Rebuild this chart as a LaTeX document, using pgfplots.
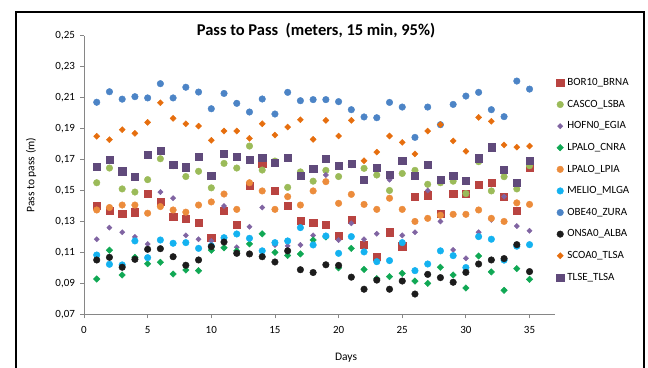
\documentclass[border=0pt]{standalone}
\usepackage{fontspec}
\setmainfont{Carlito}
\usepackage{pgfplots}
\usepackage{pgfplotstable}
\pgfplotsset{compat=1.18}

\definecolor{cBOR}{RGB}{185,68,65}
\definecolor{cCAS}{RGB}{155,187,89}
\definecolor{cHOF}{RGB}{128,100,162}
\definecolor{cCNR}{RGB}{16,168,84}
\definecolor{cLPI}{RGB}{236,140,60}
\definecolor{cMEL}{RGB}{20,178,240}
\definecolor{cOBE}{RGB}{76,132,198}
\definecolor{cONS}{RGB}{28,28,28}
\definecolor{cSCO}{RGB}{230,110,14}
\definecolor{cTLS}{RGB}{96,74,123}
\definecolor{axisgray}{RGB}{134,134,134}

% pass-to-pass 95% values (m) per station pair, days 1-35
\pgfplotstableread{
day BOR CAS HOF CNR LPI MEL OBE ONS SCO TLS
1 0.140 0.155 0.1185 0.0928 0.1374 0.1083 0.2070 0.1051 0.1850 0.1652
2 0.137 0.1645 0.126 0.1114 0.139 0.1023 0.2138 0.1068 0.1828 0.1701
3 0.135 0.151 0.123 0.0954 0.1406 0.1019 0.2090 0.1004 0.1893 0.1624
4 0.136 0.149 0.120 0.1068 0.1406 0.1174 0.2106 0.1055 0.1869 0.1587
5 0.148 0.157 0.1154 0.1027 0.1353 0.1066 0.2098 0.1120 0.1940 0.1731
6 0.143 0.1705 0.149 0.1036 0.1396 0.1180 0.2190 0.1124 0.2067 0.1755
7 0.133 0.166 0.145 0.0960 0.1374 0.1159 0.2098 0.1072 0.1966 0.1669
8 0.132 0.159 0.121 0.0986 0.136 0.1163 0.2167 0.1017 0.1931 0.1650
9 0.129 0.1624 0.1185 0.0982 0.1406 0.1126 0.2136 0.1051 0.1916 0.1718
10 0.1195 0.1517 0.1174 0.1114 0.1426 0.1142 0.2028 0.1137 0.1824 0.1593
11 0.137 0.1675 0.140 0.113 0.1477 0.1195 0.2127 0.1167 0.1884 0.1738
12 0.128 0.1645 0.1133 0.111 0.1378 0.1219 0.2063 0.1094 0.1884 0.1716
13 0.153 0.1787 0.1266 0.1155 0.155 0.1191 0.2007 0.1090 0.1837 0.1697
14 0.1675 0.1632 0.139 0.122 0.1497 0.111 0.2091 0.1072 0.1931 0.1712
15 0.150 0.169 0.1148 0.110 0.1378 0.1163 0.1994 0.1038 0.1858 0.1677
16 0.140 0.152 0.1142 0.108 0.146 0.1174 0.2134 0.1110 0.1910 0.1710
17 0.1305 0.162 0.1148 0.109 0.1406 0.126 0.2080 0.0988 0.1957 0.1593
18 0.129 0.156 0.121 0.118 0.1497 0.1148 0.2087 0.0970 0.1830 0.1641
19 0.128 0.163 0.160 0.120 0.1557 0.1206 0.2087 0.1020 0.1953 0.1705
20 0.121 0.159 0.118 0.100 0.1417 0.1094 0.2074 0.1016 0.1852 0.1658
21 0.131 0.1667 0.1288 0.1126 0.1475 0.1202 0.2022 0.0940 0.1953 0.1673
22 0.115 0.1643 0.1185 0.099 0.141 0.1103 0.1975 0.0862 0.1692 0.1568
23 0.107 0.160 0.122 0.093 0.1378 0.104 0.1970 0.0921 0.1748 0.1645
24 0.123 0.150 0.157 0.0943 0.145 0.1047 0.2069 0.0862 0.1852 0.1600
25 0.114 0.161 0.121 0.0965 0.1378 0.1163 0.2039 0.0915 0.1811 0.1690
26 0.146 0.163 0.123 0.0915 0.130 0.0982 0.1843 0.0831 0.1736 0.1594
27 0.147 0.154 0.150 0.090 0.132 0.1025 0.2039 0.0958 0.1884 0.1669
28 0.135 0.155 0.130 0.1004 0.134 0.111 0.1925 0.0937 0.1926 0.1572
29 0.148 0.156 0.1116 0.0954 0.1346 0.1079 0.2056 0.0907 0.1820 0.1593
30 0.148 0.148 0.1062 0.087 0.1346 0.1002 0.2110 0.0971 0.1753 0.1565
31 0.1536 0.1686 0.123 0.1077 0.1374 0.1202 0.2134 0.1025 0.1972 0.1708
32 0.155 0.1497 0.131 0.0974 0.132 0.1185 0.2022 0.1051 0.1947 0.1779
33 0.146 0.1589 0.146 0.0855 0.130 0.105 0.1977 0.1060 0.1794 0.1632
34 0.137 0.151 0.127 0.0995 0.142 0.114 0.2207 0.1150 0.1780 0.1550
35 0.165 0.166 0.124 0.0926 0.141 0.115 0.2155 0.0976 0.1787 0.1690
}\passdata

\begin{document}
\begin{tikzpicture}[x=1pt,y=1pt]
\useasboundingbox (0,0) rectangle (648,367);
% chart frame
\draw[line width=1.8pt] (16,-20) -- (16,355) -- (644,355) -- (644,-20);
\node[font=\fontsize{16.5}{19}\bfseries\selectfont] at (316,336) {Pass to Pass\ \ (meters, 15 min, 95\%)};
\node[font=\fontsize{11.5}{13}\selectfont, rotate=90] at (31,192) {Pass to pass (m)};
\node[font=\fontsize{11.5}{13}\selectfont] at (346,9) {Days};
\begin{axis}[
  at={(84pt,52.7pt)}, anchor=south west,
  scale only axis, width=471pt, height=278.6pt,
  xmin=0, xmax=37, ymin=0.07, ymax=0.25,
  axis lines*=left,
  axis line style={draw=axisgray, line width=0.8pt},
  tick style={draw=axisgray, line width=0.8pt},
  tick align=outside, major tick length=4pt,
  xtick={0,5,10,15,20,25,30,35},
  ytick={0.07,0.09,0.11,0.13,0.15,0.17,0.19,0.21,0.23,0.25},
  scaled y ticks=false,
  /pgf/number format/assume math mode=true,
  tick label style={font=\fontsize{11}{13}\selectfont},
  xticklabel style={yshift=-5pt},
  yticklabel style={xshift=-1.5pt, /pgf/number format/.cd, use comma, fixed, fixed zerofill, precision=2},
  legend cell align=left,
  legend style={at={(axis description cs:1.003,0.850)}, anchor=north west,
    draw=none, fill=none, inner sep=0pt, row sep=11.1pt, column sep=3.5pt,
    font=\fontsize{11}{13}\selectfont,
    nodes={inner sep=0pt, text height=8pt, text depth=2.5pt}},
  legend image code/.code={\draw[#1] plot coordinates {(0pt,0pt)};},
]
\addplot[only marks, mark=square*, mark size=3.6pt, color=cBOR] table[x=day,y=BOR] {\passdata};
\addlegendentry{BOR10\_BRNA}
\addplot[only marks, mark=*, mark size=3.3pt, color=cCAS] table[x=day,y=CAS] {\passdata};
\addlegendentry{CASCO\_LSBA}
\addplot[only marks, mark=square*, mark size=1.85pt, mark options={rotate=45}, color=cHOF] table[x=day,y=HOF] {\passdata};
\addlegendentry{HOFN0\_EGIA}
\addplot[only marks, mark=square*, mark size=2.3pt, mark options={rotate=45}, color=cCNR] table[x=day,y=CNR] {\passdata};
\addlegendentry{LPALO\_CNRA}
\addplot[only marks, mark=*, mark size=3.3pt, color=cLPI] table[x=day,y=LPI] {\passdata};
\addlegendentry{LPALO\_LPIA}
\addplot[only marks, mark=*, mark size=3.3pt, color=cMEL] table[x=day,y=MEL] {\passdata};
\addlegendentry{MELIO\_MLGA}
\addplot[only marks, mark=*, mark size=3.3pt, color=cOBE] table[x=day,y=OBE] {\passdata};
\addlegendentry{OBE40\_ZURA}
\addplot[only marks, mark=*, mark size=3.3pt, color=cONS] table[x=day,y=ONS] {\passdata};
\addlegendentry{ONSA0\_ALBA}
\addplot[only marks, mark=square*, mark size=2.15pt, mark options={rotate=45}, color=cSCO] table[x=day,y=SCO] {\passdata};
\addlegendentry{SCOA0\_TLSA}
\addplot[only marks, mark=square*, mark size=3.6pt, color=cTLS] table[x=day,y=TLS] {\passdata};
\addlegendentry{TLSE\_TLSA}
\end{axis}
\end{tikzpicture}
\end{document}
